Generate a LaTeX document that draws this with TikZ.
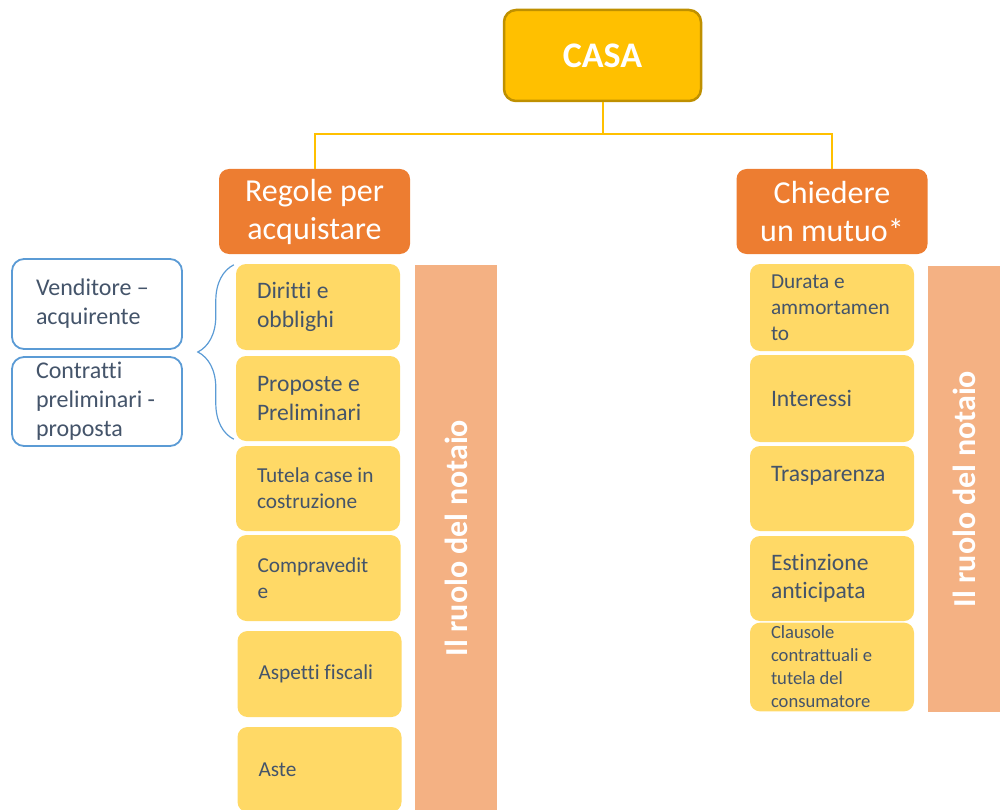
\documentclass[tikz,border=0pt]{standalone}
\usepackage{fontspec}
\setmainfont{Carlito}[Ligatures=CommonOff]
\usetikzlibrary{positioning, decorations.pathreplacing}

\definecolor{casagold}{HTML}{FFC000}
\definecolor{casaedge}{HTML}{BF9000}
\definecolor{headorange}{HTML}{ED7D31}
\definecolor{itemyellow}{HTML}{FFD966}
\definecolor{barsalmon}{HTML}{F4B183}
\definecolor{noteblue}{HTML}{5B9BD5}
\definecolor{itemtext}{HTML}{44546A}

\begin{document}
\begin{tikzpicture}[x=1pt,y=-1pt,
    casa node/.style={draw=casaedge,line width=2.5pt,fill=casagold,rounded corners=12pt,
        text=white,font=\bfseries\fontsize{36}{43}\selectfont,minimum width=197pt,minimum height=91pt},
    head node/.style={fill=headorange,rounded corners=10pt,text=white,align=center,
        font=\fontsize{32}{38}\selectfont,minimum width=191pt,minimum height=85pt},
    item node/.style={fill=itemyellow,rounded corners=10pt,text=itemtext,align=flush left,
        text width=122pt,inner xsep=21pt,minimum height=85pt,font=\fontsize{21.3}{26}\selectfont},
    big text/.style={font=\fontsize{23.6}{28.5}\selectfont},
    small text/.style={font=\fontsize{18.6}{23}\selectfont},
    note node/.style={draw=noteblue,line width=1.8pt,fill=white,rounded corners=12pt,text=itemtext,
        align=flush left,text width=122pt,inner xsep=24pt,font=\fontsize{24}{29}\selectfont},
    bar node/.style={fill=barsalmon,rotate=90,text=white,inner sep=0pt,
        font=\bfseries\fontsize{32}{38}\selectfont},
    link/.style={draw=casagold,line width=2pt},
    brace line/.style={draw=noteblue,line width=1.2pt,decorate,decoration={brace,amplitude=36pt}}]

\useasboundingbox (0,0) rectangle (1000,810);

% top
\node[casa node] (casa) at (602.5,55.5) {CASA};
\node[head node] (regole)   at (314.5,211.5) {Regole per\\acquistare};
\node[head node] (chiedere) at (832,211.5)   {Chiedere\\un mutuo*};

\draw[link] (casa.south) -- ++(0,32) coordinate (fork) -| (regole.north);
\draw[link] (fork) -| (chiedere.north);

% left column
\node[item node,big text,minimum height=86pt] (diritti)  at (318,307)     {Diritti e\\obblighi};
\node[item node,big text]            (proposte) at (318,398.5)   {Proposte e\\Preliminari};
\node[item node]                     (tutela)   at (318,488.5)   {Tutela case in\\costruzione};
\node[item node,minimum height=86pt] (compra)   at (318.5,578)   {Compravedit\\e};
\node[item node,minimum height=86pt] (aspetti)  at (319.5,674)   {Aspetti fiscali};
\node[item node]                     (aste)     at (319.5,769.5) {Aste};

\node[bar node,minimum width=546pt,minimum height=82pt] (notaioL) at (456,538) {Il ruolo del notaio};

% right column
\node[item node,minimum height=87pt]           (durata)  at (832,307.5) {Durata e\\ammortamen\\to};
\node[item node,big text,minimum height=87pt]  (interessi) at (832,398.5) {Interessi};
\node[item node,big text]                      (traspar) at (832,488.5) {Trasparenza\\\mbox{}};
\node[item node,big text]                      (estinz)  at (832,578.5) {Estinzione\\anticipata};
\node[item node,small text,minimum height=86pt] (clausole) at (832,667)  {Clausole\\contrattuali e\\tutela del\\consumatore};

\node[bar node,minimum width=446pt,minimum height=72pt] (notaioR) at (964,489) {Il ruolo del notaio};

% side notes
\node[note node,minimum height=90pt] (vendit)    at (97,304)   {Venditore –\\acquirente};
\node[note node,minimum height=89pt] (contratti) at (97,401.5) {Contratti\\preliminari -\\proposta};

\draw[brace line] ([xshift=-2pt,yshift=2pt]proposte.south west) -- ([xshift=-2pt,yshift=-1pt]diritti.north west);
\end{tikzpicture}
\end{document}
